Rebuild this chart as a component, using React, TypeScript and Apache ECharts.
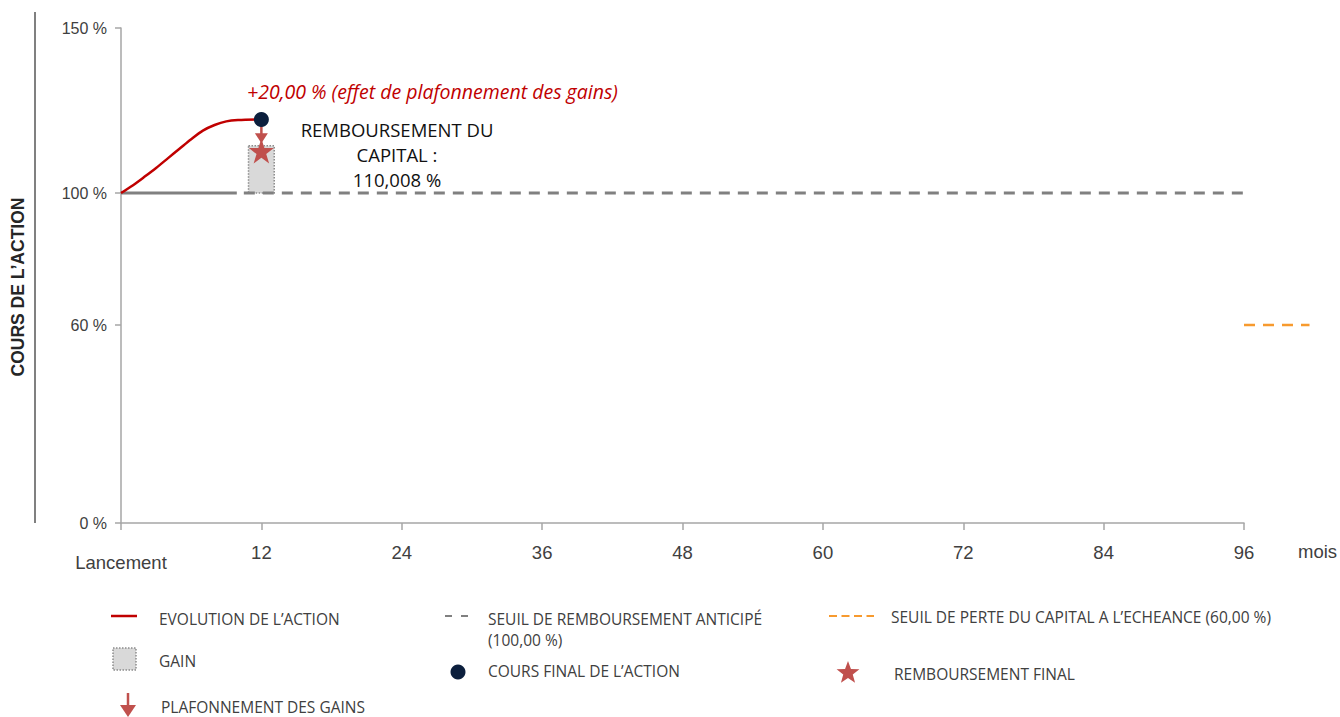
import React, { useEffect, useRef } from "react";
import * as echarts from "echarts";

// ---- Data ----
const pathMonths = [0, 1, 2, 3, 4, 5, 6, 7, 8, 9, 10, 12];
const pathValues = [100, 102.3, 104.9, 107.6, 110.5, 113.4, 116.3, 118.9, 120.6, 121.7, 122.1, 122.3];
const yTickValues = [0, 60, 100, 150];
const xTickInterval = 12;
const xMax = 96;
const earlyRedemptionLevel = 100;
const earlySolidEnd = 9.9;
const earlyDashedStart = 10.5;
const capitalLossLevel = 60;
const capitalLossSpan = [96, 101.6];
const finalStock = [12, 122.3];
const finalRedemption = [12, 112.7];
const capArrow = [120.6, 116.6];
const gainBox = { x0: 10.9, x1: 13.1, y0: 100, y1: 114.3 };

const RED = "#c00000";
const STAR_RED = "#c0504d";
const NAVY = "#0c1f3d";
const GRAY = "#808080";
const ORANGE = "#f79a2e";
const TXT = "#404040";
const CAL = "'Open Sans', 'Noto Sans', sans-serif";
const ARIAL = "'Liberation Sans', Arial, sans-serif";

const W = 1340;
const GRID_LEFT = 121;
const GRID_RIGHT = 96;
const GRID_TOP = 28;
const GRID_BOTTOM = 194;

const STAR_PATH =
  "path://M50,0 L61.8,35.3 L99,35.3 L69,57.5 L80.4,92.8 L50,71 L19.6,92.8 L31,57.5 L1,35.3 L38.2,35.3 Z";

function starPoints(cx: number, cy: number, ro: number, ri: number) {
  const pts: number[][] = [];
  for (let i = 0; i < 10; i++) {
    const r = i % 2 === 0 ? ro : ri;
    const a = -Math.PI / 2 + (i * Math.PI) / 5;
    pts.push([cx + r * Math.cos(a), cy + r * Math.sin(a)]);
  }
  return pts;
}

export default function App() {
  const ref = useRef<HTMLDivElement>(null);
  useEffect(() => {
    if (!ref.current) return;
    const chart = echarts.init(ref.current, null, { renderer: "svg" });
    const plotW = W - GRID_LEFT - GRID_RIGHT;
    const xMax2 = capitalLossSpan[1];
    const right2 = W - GRID_LEFT - (plotW * xMax2) / xMax;
    const legendText = (x: number, y: number, text: string) => ({
      type: "text",
      x,
      y,
      style: {
        text,
        fill: TXT,
        font: `15.5px ${CAL}`,
        lineHeight: 16,
        align: "left",
        verticalAlign: "middle",
      },
    });
    chart.setOption({
      animation: false,
      textStyle: { fontFamily: ARIAL },
      grid: [
        { left: GRID_LEFT, right: GRID_RIGHT, top: GRID_TOP, bottom: GRID_BOTTOM },
        { left: GRID_LEFT, right: right2, top: GRID_TOP, bottom: GRID_BOTTOM },
      ],
      xAxis: [
        {
          type: "value",
          min: 0,
          max: xMax,
          interval: xTickInterval,
          splitLine: { show: false },
          axisLine: { show: true, lineStyle: { color: "#a6a6a6", width: 1.5 } },
          axisTick: { show: true, length: 7, lineStyle: { color: "#a6a6a6", width: 1.5 } },
          axisLabel: {
            color: TXT,
            fontSize: 18.5,
            margin: 20,
            formatter: (v: number) => (v === 0 ? "{l|Lancement}" : String(v)),
            rich: { l: { fontSize: 18.5, color: TXT, padding: [10, 0, 0, 0] } },
          },
        },
        { gridIndex: 1, type: "value", min: 0, max: xMax2, show: false },
      ],
      yAxis: [
        {
          type: "value",
          min: 0,
          max: 150,
          interval: 10,
          splitLine: { show: false },
          axisLine: { show: true, lineStyle: { color: "#a6a6a6", width: 1.5 } },
          axisTick: {
            show: true,
            length: 6,
            customValues: yTickValues,
            lineStyle: { color: "#a6a6a6", width: 1.5 },
          },
          axisLabel: {
            color: TXT,
            fontSize: 16,
            margin: 14,
            customValues: yTickValues,
            formatter: (v: number) => `${v} %`,
          },
        },
        { gridIndex: 1, type: "value", min: 0, max: 150, show: false },
      ],
      series: [
        {
          name: "SEUIL DE REMBOURSEMENT ANTICIPÉ",
          type: "line",
          z: 2,
          symbol: "none",
          lineStyle: { color: GRAY, width: 3, type: [11, 8] },
          data: [
            [earlyDashedStart, earlyRedemptionLevel],
            [xMax, earlyRedemptionLevel],
          ],
          markArea: {
            silent: true,
            z: 1,
            itemStyle: {
              color: "#d9d9d9",
              borderColor: "#8c8c8c",
              borderWidth: 1.5,
              borderType: "dotted",
              opacity: 1,
            },
            data: [[{ coord: [gainBox.x0, gainBox.y1] }, { coord: [gainBox.x1, gainBox.y0] }]],
          },
        },
        {
          name: "seuil-solide",
          type: "line",
          z: 2,
          symbol: "none",
          lineStyle: { color: GRAY, width: 3 },
          data: [
            [0, earlyRedemptionLevel],
            [earlySolidEnd, earlyRedemptionLevel],
          ],
        },
        {
          name: "SEUIL DE PERTE DU CAPITAL",
          type: "line",
          xAxisIndex: 1,
          yAxisIndex: 1,
          z: 2,
          symbol: "none",
          lineStyle: { color: ORANGE, width: 2.5, type: [11, 8] },
          data: capitalLossSpan.map((m) => [m, capitalLossLevel]),
        },
        {
          name: "EVOLUTION DE L'ACTION",
          type: "line",
          z: 3,
          smooth: 0.3,
          symbol: "none",
          lineStyle: { color: RED, width: 2.5 },
          data: pathMonths.map((m, i) => [m, pathValues[i]]),
        },
        {
          name: "PLAFONNEMENT DES GAINS",
          type: "line",
          z: 4,
          showSymbol: true,
          lineStyle: { color: STAR_RED, width: 2.5 },
          itemStyle: { color: STAR_RED, opacity: 1 },
          data: [
            { value: [finalStock[0], capArrow[0]], symbol: "none" },
            { value: [finalStock[0], capArrow[1]], symbol: "triangle", symbolSize: [13, 10], symbolRotate: 180 },
          ],
        },
        {
          name: "REMBOURSEMENT FINAL",
          type: "scatter",
          z: 5,
          symbol: STAR_PATH,
          symbolSize: 25,
          itemStyle: { color: STAR_RED, opacity: 1 },
          data: [finalRedemption],
        },
        {
          name: "COURS FINAL DE L'ACTION",
          type: "scatter",
          z: 6,
          symbol: "circle",
          symbolSize: 15,
          itemStyle: { color: NAVY, opacity: 1 },
          data: [finalStock],
        },
      ],
      graphic: [
        {
          type: "line",
          shape: { x1: 35, y1: 12, x2: 35, y2: 523 },
          style: { stroke: GRAY, lineWidth: 2 },
        },
        {
          type: "text",
          x: 18,
          y: 287,
          rotation: Math.PI / 2,
          style: {
            text: "COURS DE L\u2019ACTION",
            fill: "#262626",
            font: `bold 17.5px ${ARIAL}`,
            align: "center",
            verticalAlign: "middle",
          },
        },
        {
          type: "text",
          x: 1298,
          y: 551,
          style: {
            text: "mois",
            fill: TXT,
            font: `18.5px ${ARIAL}`,
            align: "left",
            verticalAlign: "middle",
          },
        },
        {
          type: "text",
          x: 247,
          y: 91,
          style: {
            text: "+20,00 % (effet de plafonnement des gains)",
            fill: RED,
            font: `italic 19.5px ${CAL}`,
            align: "left",
            verticalAlign: "middle",
          },
        },
        {
          type: "text",
          x: 397,
          y: 154,
          style: {
            text: "REMBOURSEMENT DU\nCAPITAL :\n110,008 %",
            fill: "#111",
            font: `18.5px ${CAL}`,
            lineHeight: 25,
            align: "center",
            verticalAlign: "middle",
          },
        },
        // Legend
        { type: "line", shape: { x1: 111, y1: 616, x2: 137, y2: 616 }, style: { stroke: RED, lineWidth: 2.5 } },
        legendText(159, 619, "EVOLUTION DE L\u2019ACTION"),
        {
          type: "rect",
          shape: { x: 113, y: 648, width: 23, height: 22 },
          style: { fill: "#d9d9d9", stroke: "#8c8c8c", lineWidth: 1.5, lineDash: [1.5, 1.5] },
        },
        legendText(159, 661, "GAIN"),
        { type: "line", shape: { x1: 128, y1: 693, x2: 128, y2: 706 }, style: { stroke: STAR_RED, lineWidth: 2.5 } },
        {
          type: "polygon",
          shape: { points: [[120, 705], [136, 705], [128, 717]] },
          style: { fill: STAR_RED },
        },
        legendText(161, 707, "PLAFONNEMENT DES GAINS"),
        {
          type: "line",
          shape: { x1: 445, y1: 616, x2: 468, y2: 616 },
          style: { stroke: GRAY, lineWidth: 2, lineDash: [7, 9] },
        },
        legendText(488, 619, "SEUIL DE REMBOURSEMENT ANTICIP\u00c9"),
        legendText(488, 640, "(100,00 %)"),
        { type: "circle", shape: { cx: 458, cy: 672, r: 7.5 }, style: { fill: NAVY } },
        legendText(488, 671, "COURS FINAL DE L\u2019ACTION"),
        {
          type: "line",
          shape: { x1: 829, y1: 616, x2: 874, y2: 616 },
          style: { stroke: ORANGE, lineWidth: 2, lineDash: [8, 4.5] },
        },
        legendText(891, 617, "SEUIL DE PERTE DU CAPITAL A L\u2019ECHEANCE (60,00 %)"),
        {
          type: "polygon",
          shape: { points: starPoints(848, 673, 12, 5) },
          style: { fill: STAR_RED },
        },
        legendText(894, 674, "REMBOURSEMENT FINAL"),
      ],
    });
    return () => chart.dispose();
  }, []);
  return (
    <div
      ref={ref}
      style={{ position: "fixed", left: 0, top: 0, width: W, height: 717, background: "#fff" }}
    />
  );
}
